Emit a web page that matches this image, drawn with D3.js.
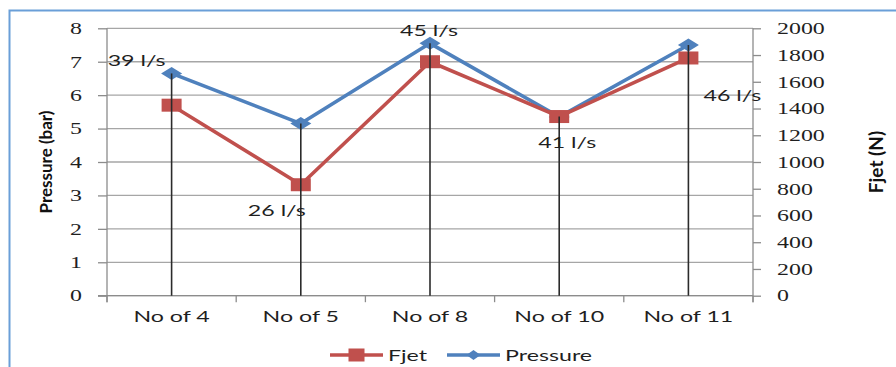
<!DOCTYPE html>
<html>
<head>
<meta charset="utf-8">
<script src="https://cdnjs.cloudflare.com/ajax/libs/d3/7.8.5/d3.min.js"></script>
<style>
  html, body { margin: 0; padding: 0; background: #fff; }
  svg { display: block; }
</style>
</head>
<body>
<svg id="chart" width="896" height="367"></svg>
<script>
// Nozzle configurations along the x axis
const categories = ["No of 4", "No of 5", "No of 8", "No of 10", "No of 11"];
// Jet force (N), secondary axis
const fjet = [1425, 830, 1750, 1340, 1778];
// Pressure (bar), primary axis
const pressure = [6.65, 5.15, 7.55, 5.35, 7.5];
// Flow rate shown next to each point (l/s)
const flows = [39, 26, 45, 41, 46];
// Axis tick values
const pressureTicks = [0, 1, 2, 3, 4, 5, 6, 7, 8];
const fjetTicks = [0, 200, 400, 600, 800, 1000, 1200, 1400, 1600, 1800, 2000];

const SX = 1.45;               // horizontal text stretch
const RED = "#c0504d", BLUE = "#4f81bd";
const INK = "#1f1f1f";
const SANS = "Lato, 'Open Sans', sans-serif";
const SERIF = "'Liberation Serif', serif";

const svg = d3.select("#chart");

const L = 107, R = 753, T = 28.3, B = 295.7;

const x = d3.scaleBand().domain(categories).range([L, R]);
const yL = d3.scaleLinear().domain([0, 8]).range([B, T]);
const yR = d3.scaleLinear().domain([0, 2000]).range([B, T]);

// outer frame
svg.append("rect")
  .attr("x", 9.5).attr("y", 10.5).attr("width", 920).attr("height", 380)
  .attr("fill", "none").attr("stroke", "#6a9fd8").attr("stroke-width", 2);

// horizontal gridlines
svg.append("g").selectAll("line").data(pressureTicks).join("line")
  .attr("x1", L).attr("x2", R)
  .attr("y1", d => yL(d)).attr("y2", d => yL(d))
  .attr("stroke", "#a6a6a6").attr("stroke-width", 1.3);

function stretchText(axisG) {
  axisG.selectAll("text").each(function () {
    const t = d3.select(this);
    t.attr("x", +t.attr("x") / SX).attr("transform", `scale(${SX},1)`);
  });
}

// left axis
const gL = svg.append("g").attr("transform", `translate(${L},0)`)
  .call(d3.axisLeft(yL).tickValues(pressureTicks).tickFormat(d3.format("d"))
    .tickSize(9).tickPadding(16).tickSizeOuter(0));
gL.select(".domain").attr("stroke", "#8c8c8c").attr("stroke-width", 1.3)
  .attr("d", `M0,${T}V${B + 6.5}`);
gL.selectAll(".tick line").attr("stroke", "#8c8c8c").attr("stroke-width", 1.3);
gL.selectAll("text").attr("font-family", SERIF).attr("font-size", 16.5).attr("fill", INK);
stretchText(gL);

// right axis
const gR = svg.append("g").attr("transform", `translate(${R},0)`)
  .call(d3.axisRight(yR).tickValues(fjetTicks).tickFormat(d3.format("d"))
    .tickSize(8).tickPadding(16).tickSizeOuter(0));
gR.select(".domain").attr("stroke", "#8c8c8c").attr("stroke-width", 1.3)
  .attr("d", `M0,${T}V${B + 6.5}`);
gR.selectAll(".tick line").attr("stroke", "#8c8c8c").attr("stroke-width", 1.3);
gR.selectAll("text").attr("font-family", SERIF).attr("font-size", 16.5).attr("fill", INK);
stretchText(gR);

// bottom axis: ticks at category boundaries, labels at centres
const gB = svg.append("g").attr("transform", `translate(0,${B})`);
gB.append("line").attr("x1", L - 9).attr("x2", R).attr("y1", 0).attr("y2", 0)
  .attr("stroke", "#8c8c8c").attr("stroke-width", 1.3);
const bounds = categories.map(c => x(c)).concat([x.range()[1]]);
gB.selectAll(".xt").data(bounds).join("line").attr("class", "xt")
  .attr("x1", d => d).attr("x2", d => d).attr("y1", 0).attr("y2", 6.5)
  .attr("stroke", "#8c8c8c").attr("stroke-width", 1.3);
gB.selectAll(".xl").data(categories).join("g").attr("class", "xl")
  .attr("transform", d => `translate(${x(d) + x.bandwidth() / 2},21) scale(${SX},1)`)
  .append("text").attr("text-anchor", "middle").attr("dy", "0.35em")
  .attr("font-family", SANS).attr("font-size", 16).attr("fill", INK)
  .text(d => d);

// axis titles
svg.append("text")
  .attr("transform", "translate(46,162) rotate(-90)")
  .attr("text-anchor", "middle").attr("dy", "0.35em")
  .attr("font-family", SANS).attr("font-weight", "bold").attr("font-size", 17).attr("fill", "#111")
  .text("Pressure (bar)");
svg.append("text")
  .attr("transform", "translate(876,162) rotate(-90)")
  .attr("text-anchor", "middle").attr("dy", "0.35em")
  .attr("font-family", SANS).attr("font-weight", "bold").attr("font-size", 19).attr("fill", "#111")
  .text("Fjet (N)");

const cx = c => x(c) + x.bandwidth() / 2;
const pPts = categories.map((c, i) => [cx(c), yL(pressure[i])]);
const fPts = categories.map((c, i) => [cx(c), yR(fjet[i])]);

const diamond = (w, h) => `M0,${-h / 2}L${w / 2},0L0,${h / 2}L${-w / 2},0Z`;

// pressure series
svg.append("path").datum(pPts).attr("d", d3.line())
  .attr("fill", "none").attr("stroke", BLUE).attr("stroke-width", 3.6).attr("stroke-linejoin", "round");
svg.append("g").selectAll("path").data(pPts).join("path")
  .attr("transform", d => `translate(${d[0]},${d[1]})`)
  .attr("d", diamond(21, 13)).attr("fill", BLUE);

// jet force series
svg.append("path").datum(fPts).attr("d", d3.line())
  .attr("fill", "none").attr("stroke", RED).attr("stroke-width", 3.6).attr("stroke-linejoin", "round");
svg.append("g").selectAll("rect").data(fPts).join("rect")
  .attr("x", d => d[0] - 10).attr("y", d => d[1] - 6.5)
  .attr("width", 20).attr("height", 13).attr("fill", RED);

// drop lines from the highest point to the category axis
svg.append("g").selectAll("line").data(categories).join("line")
  .attr("x1", c => cx(c)).attr("x2", c => cx(c))
  .attr("y1", (c, i) => Math.min(pPts[i][1], fPts[i][1])).attr("y2", B)
  .attr("stroke", "#2b2b2b").attr("stroke-width", 1.6);

// flow-rate labels, offset from the points they describe
const labelAnchor = [
  (i) => [pPts[i][0] - 35, pPts[i][1] - 13],
  (i) => [fPts[i][0] - 24, fPts[i][1] + 26],
  (i) => [pPts[i][0] - 1, pPts[i][1] - 13],
  (i) => [fPts[i][0] + 8, fPts[i][1] + 26],
  (i) => [fPts[i][0] + 44, fPts[i][1] + 37]
];
svg.append("g").selectAll("g").data(flows).join("g")
  .attr("transform", (d, i) => {
    const p = labelAnchor[i](i);
    return `translate(${p[0]},${p[1]}) scale(${SX},1)`;
  })
  .append("text").attr("text-anchor", "middle").attr("dy", "0.35em")
  .attr("font-family", SANS).attr("font-size", 16).attr("fill", INK)
  .text(d => `${d} l/s`);

// legend
const leg = svg.append("g").attr("transform", "translate(0,355)");
const items = [
  { name: "Fjet", color: RED, x0: 330, shape: "square" },
  { name: "Pressure", color: BLUE, x0: 447, shape: "diamond" }
];
items.forEach(it => {
  leg.append("line").attr("x1", it.x0).attr("x2", it.x0 + 53).attr("y1", 0).attr("y2", 0)
    .attr("stroke", it.color).attr("stroke-width", 3.6);
  if (it.shape === "square") {
    leg.append("rect").attr("x", it.x0 + 26.5 - 8).attr("y", -6.5).attr("width", 16).attr("height", 13)
      .attr("fill", it.color);
  } else {
    leg.append("path").attr("transform", `translate(${it.x0 + 26.5},0)`)
      .attr("d", diamond(14, 10)).attr("fill", it.color);
  }
  leg.append("g").attr("transform", `translate(${it.x0 + 58},0) scale(${SX},1)`)
    .append("text").attr("dy", "0.35em")
    .attr("font-family", SANS).attr("font-size", 16).attr("fill", INK)
    .text(it.name);
});
</script>
</body>
</html>
